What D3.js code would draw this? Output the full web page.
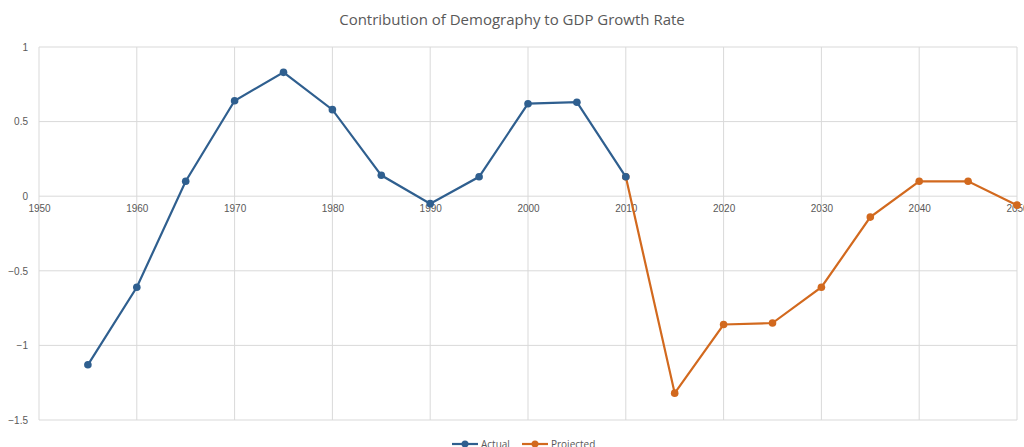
<!DOCTYPE html>
<html lang="en">
<head>
    <meta charset="UTF-8">
    <title>Contribution of Demography to GDP Growth Rate</title>
    <script src="https://cdn.jsdelivr.net/npm/d3@7"></script>
    <style>
        body { margin: 0; background: #fff; }
        svg { display: block; font-family: "Open Sans", "Liberation Sans", sans-serif; }
        .grid line { stroke: #d9d9d9; stroke-width: 1; }
        .tick text { fill: #595959; font-size: 10px; }
    </style>
</head>
<body>
    <svg width="1024" height="447"></svg>
    <script>
        var actualYears = [1955, 1960, 1965, 1970, 1975, 1980, 1985, 1990, 1995, 2000, 2005, 2010];
        var actualValues = [-1.13, -0.61, 0.10, 0.64, 0.83, 0.58, 0.14, -0.05, 0.13, 0.62, 0.63, 0.13];
        var projectedYears = [2010, 2015, 2020, 2025, 2030, 2035, 2040, 2045, 2050];
        var projectedValues = [0.13, -1.32, -0.86, -0.85, -0.61, -0.14, 0.10, 0.10, -0.06];
        var xTicks = [1950, 1960, 1970, 1980, 1990, 2000, 2010, 2020, 2030, 2040, 2050];
        var yTicks = [1, 0.5, 0, -0.5, -1, -1.5];

        var svg = d3.select("svg");
        var plotLeft = 39, plotRight = 1017, plotTop = 47, plotBottom = 420;

        var x = d3.scaleLinear().domain([1950, 2050]).range([plotLeft, plotRight]);
        var y = d3.scaleLinear().domain([-1.5, 1]).range([plotBottom, plotTop]);

        // gridlines
        var grid = svg.append("g").attr("class", "grid");
        grid.selectAll(".v").data(xTicks).enter().append("line")
            .attr("x1", function(d) { return x(d); })
            .attr("x2", function(d) { return x(d); })
            .attr("y1", plotTop).attr("y2", plotBottom);
        grid.selectAll(".h").data(yTicks).enter().append("line")
            .attr("x1", plotLeft).attr("x2", plotRight)
            .attr("y1", function(d) { return y(d); })
            .attr("y2", function(d) { return y(d); });

        // axes (labels only)
        var yAxis = svg.append("g")
            .attr("transform", "translate(" + (plotLeft - 8) + ",0)")
            .call(d3.axisLeft(y).tickValues(yTicks).tickSize(0).tickFormat(d3.format("")));
        yAxis.select(".domain").remove();

        var xAxis = svg.append("g")
            .attr("transform", "translate(0," + (y(0) + 6) + ")")
            .call(d3.axisBottom(x).tickValues(xTicks).tickSize(0).tickFormat(d3.format("d")));
        xAxis.select(".domain").remove();

        // title
        svg.append("text")
            .attr("x", 512).attr("y", 25)
            .attr("text-anchor", "middle")
            .attr("fill", "#595959")
            .style("font-size", "15px")
            .text("Contribution of Demography to GDP Growth Rate");

        var series = [
            { name: "Actual", color: "#2f5f8f", years: actualYears, values: actualValues },
            { name: "Projected", color: "#d2691e", years: projectedYears, values: projectedValues }
        ];

        var line = d3.line()
            .x(function(d) { return x(d[0]); })
            .y(function(d) { return y(d[1]); });

        series.slice().reverse().forEach(function(s) {
            var pts = d3.zip(s.years, s.values);
            var g = svg.append("g");
            g.append("path")
                .datum(pts)
                .attr("fill", "none")
                .attr("stroke", s.color)
                .attr("stroke-width", 2.2)
                .attr("d", line);
            g.selectAll("circle").data(pts).enter().append("circle")
                .attr("cx", function(d) { return x(d[0]); })
                .attr("cy", function(d) { return y(d[1]); })
                .attr("r", 3.8)
                .attr("fill", s.color);
        });

        // legend
        var legend = svg.append("g").attr("transform", "translate(452,444)");
        var items = legend.selectAll("g").data(series).enter().append("g")
            .attr("transform", function(d, i) { return "translate(" + (i * 70) + ",0)"; });
        items.append("line")
            .attr("x1", 0).attr("x2", 26)
            .attr("stroke", function(d) { return d.color; })
            .attr("stroke-width", 2.2);
        items.append("circle")
            .attr("cx", 13).attr("r", 3.5)
            .attr("fill", function(d) { return d.color; });
        items.append("text")
            .attr("x", 29).attr("y", 3.5)
            .attr("fill", "#595959")
            .style("font-size", "10px")
            .text(function(d) { return d.name; });
    </script>
</body>
</html>
